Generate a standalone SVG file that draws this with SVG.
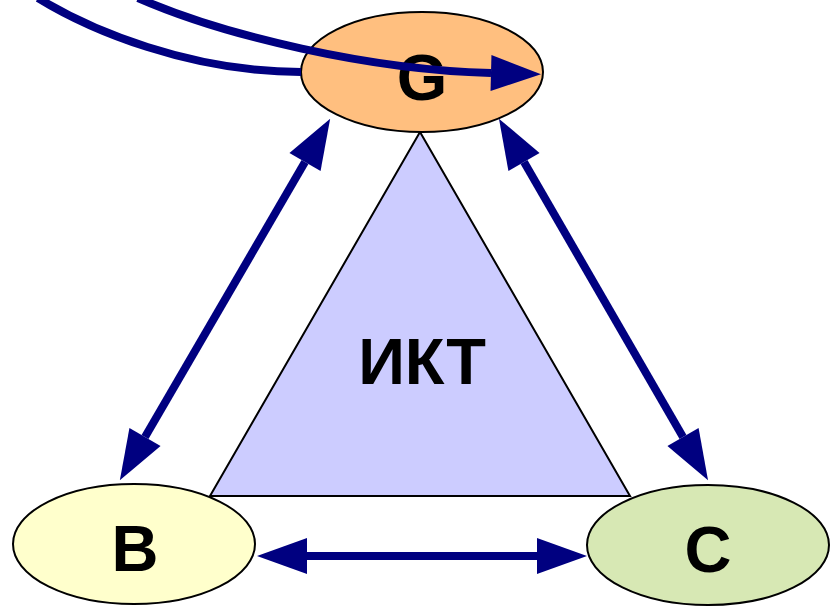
<svg xmlns="http://www.w3.org/2000/svg" width="830" height="606" viewBox="0 0 830 606">
<style>
.node{stroke:#000;stroke-width:2}
.lbl{font-family:"Liberation Sans",Arial,sans-serif;font-weight:bold;font-size:65px;fill:#000;text-anchor:middle}
.con{fill:none;stroke:#000080;stroke-width:8}
</style>
<defs>
<marker id="ah" viewBox="0 -18 50 36" refX="0" refY="0" markerWidth="50" markerHeight="36" markerUnits="userSpaceOnUse" orient="auto-start-reverse" overflow="visible">
<path d="M0,-18 L50,0 L0,18 Z" fill="#000080"/>
</marker>
</defs>
<rect width="830" height="606" fill="#fff"/>
<g id="ikt">
<polygon class="node" points="420,132 210,496 630,496" fill="#CCCCFF"/>
<text class="lbl" x="422" y="384">ИКТ</text>
</g>
<g id="G">
<ellipse class="node" cx="422" cy="72" rx="121" ry="60" fill="#FFBF7F"/>
<text class="lbl" x="422" y="100">G</text>
</g>
<g id="B">
<ellipse class="node" cx="134" cy="544" rx="121" ry="60" fill="#FFFFCC"/>
<text class="lbl" x="135" y="571">B</text>
</g>
<g id="C">
<ellipse class="node" cx="708" cy="545" rx="121" ry="60" fill="#D7E8B4"/>
<text class="lbl" x="708" y="572">C</text>
</g>
<g id="connectors">
<path class="con" d="M38,-2 C90,30 190,72 301,72"/>
<path class="con" d="M138,-2 C225,36 370,70 491,73" marker-end="url(#ah)"/>
<line class="con" x1="145" y1="437" x2="305" y2="162" marker-start="url(#ah)" marker-end="url(#ah)"/>
<line class="con" x1="524" y1="162" x2="683" y2="437" marker-start="url(#ah)" marker-end="url(#ah)"/>
<line class="con" x1="307" y1="556" x2="537" y2="556" marker-start="url(#ah)" marker-end="url(#ah)"/>
</g>
</svg>
